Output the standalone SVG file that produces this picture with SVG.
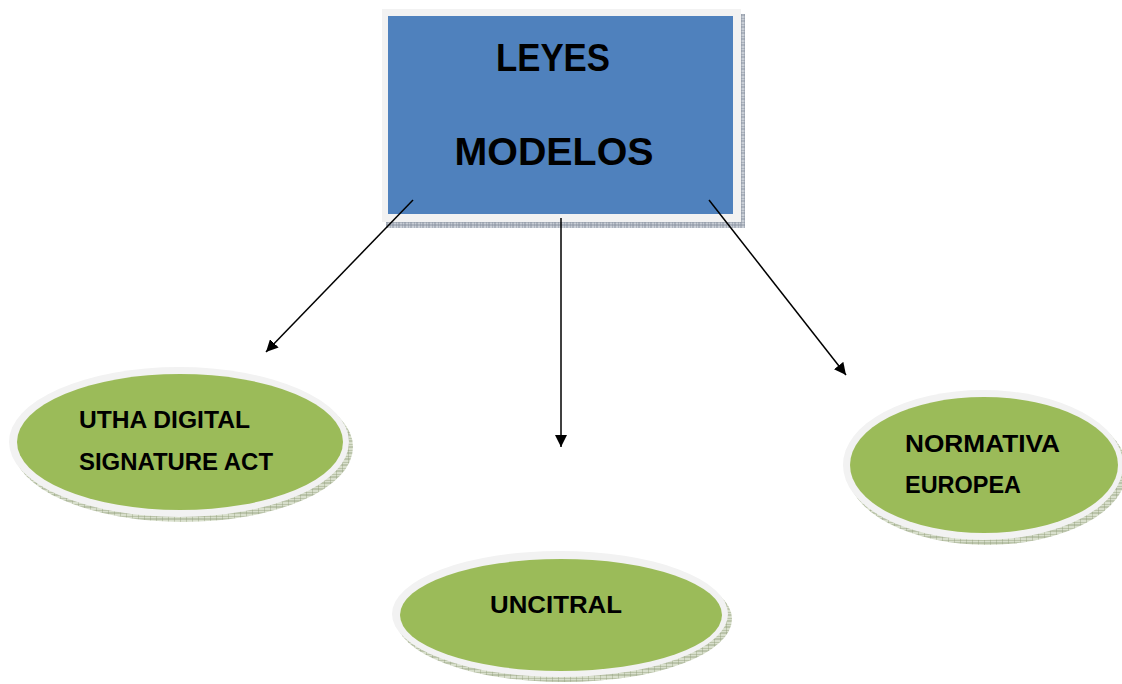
<svg xmlns="http://www.w3.org/2000/svg" width="1122" height="684" viewBox="0 0 1122 684">
<defs>
<pattern id="hatchB" width="6" height="6" patternUnits="userSpaceOnUse">
<rect width="6" height="6" fill="#c9ced6"/>
<path d="M0 0H6M0 3H6M0 0V6M3 0V6" stroke="#7f8a99" stroke-width="0.8"/>
</pattern>
<pattern id="hatchG" width="6" height="6" patternUnits="userSpaceOnUse">
<rect width="6" height="6" fill="#d8dfcc"/>
<path d="M0 0H6M0 3H6M0 0V6" stroke="#8e9b78" stroke-width="0.8"/>
</pattern>
<marker id="arr" viewBox="0 0 10 10" refX="10" refY="5" markerWidth="12" markerHeight="12" markerUnits="userSpaceOnUse" orient="auto">
<path d="M0 0L10 5L0 10z" fill="#000"/>
</marker>
<style>
.ring{fill:#f2f2f2}
.green{fill:#9bbb59}
.lbl{font-family:"Liberation Sans",Arial,sans-serif;font-weight:bold;fill:#000}
.conn{stroke:#000;stroke-width:1.5;fill:none}
</style>
</defs>
<rect width="1122" height="684" fill="#fff"/>
<g id="node-leyes">
<rect x="386" y="14" width="359" height="214" fill="url(#hatchB)"/>
<rect x="382" y="9" width="359" height="213" class="ring"/>
<rect x="388" y="16" width="345" height="198" fill="#4f81bd"/>
<text class="lbl" x="553" y="71" font-size="39" text-anchor="middle" textLength="114" lengthAdjust="spacingAndGlyphs">LEYES</text>
<text class="lbl" x="554" y="165" font-size="39" text-anchor="middle" textLength="199" lengthAdjust="spacingAndGlyphs">MODELOS</text>
</g>
<g id="node-utha">
<ellipse cx="183" cy="447" rx="170" ry="75" fill="url(#hatchG)"/>
<ellipse cx="179" cy="442" rx="170" ry="75" class="ring"/>
<ellipse cx="180" cy="442" rx="163" ry="68" class="green"/>
<text class="lbl" x="79" y="428" font-size="23" textLength="171" lengthAdjust="spacingAndGlyphs">UTHA DIGITAL</text>
<text class="lbl" x="79" y="470" font-size="23" textLength="194" lengthAdjust="spacingAndGlyphs">SIGNATURE ACT</text>
</g>
<g id="node-normativa">
<ellipse cx="987" cy="470" rx="140" ry="75" fill="url(#hatchG)"/>
<ellipse cx="983" cy="465" rx="140" ry="75" class="ring"/>
<ellipse cx="984" cy="465" rx="134" ry="68" class="green"/>
<text class="lbl" x="905" y="452" font-size="23" textLength="155" lengthAdjust="spacingAndGlyphs">NORMATIVA</text>
<text class="lbl" x="905" y="493" font-size="23" textLength="116" lengthAdjust="spacingAndGlyphs">EUROPEA</text>
</g>
<g id="node-uncitral">
<ellipse cx="564" cy="619" rx="168" ry="63" fill="url(#hatchG)"/>
<ellipse cx="560" cy="614" rx="168" ry="63" class="ring"/>
<ellipse cx="561" cy="615" rx="161" ry="56" class="green"/>
<text class="lbl" x="490" y="613" font-size="23" textLength="132" lengthAdjust="spacingAndGlyphs">UNCITRAL</text>
</g>
<g id="connectors">
<line class="conn" x1="413" y1="200" x2="266" y2="352" marker-end="url(#arr)"/>
<line class="conn" x1="561" y1="218" x2="561" y2="447" marker-end="url(#arr)"/>
<line class="conn" x1="709" y1="200" x2="846" y2="375" marker-end="url(#arr)"/>
</g>
</svg>
